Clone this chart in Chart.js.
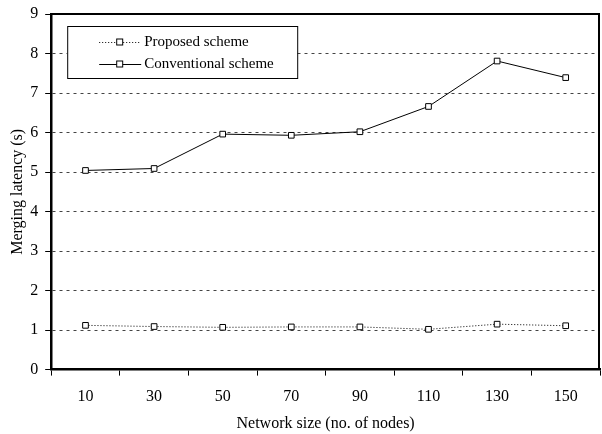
<!DOCTYPE html>
<html>
<head>
<meta charset="utf-8">
<script src="https://cdn.jsdelivr.net/npm/chart.js@4"></script>
<style>
  body { margin: 0; background: #fff; }
  #wrap { width: 602px; height: 434px; overflow: hidden; }
</style>
</head>
<body>
<div id="wrap"><canvas id="latency-chart" width="605" height="434"></canvas></div>
<script>
const networkSizes = ['10', '30', '50', '70', '90', '110', '130', '150'];
const proposedLatency = [1.12, 1.09, 1.07, 1.08, 1.08, 1.02, 1.15, 1.11];
const conventionalLatency = [5.04, 5.09, 5.96, 5.93, 6.02, 6.66, 7.81, 7.39];
const yTicks = [0, 1, 2, 3, 4, 5, 6, 7, 8, 9];

const serif = '"Liberation Serif", "DejaVu Serif", serif';

// frame on the top and right side of the plot
const frame = {
  id: 'frame',
  afterDatasetsDraw(chart) {
    const { ctx, chartArea: a } = chart;
    ctx.save();
    ctx.strokeStyle = '#000';
    ctx.lineWidth = 2;
    ctx.beginPath();
    ctx.moveTo(a.left, a.top);
    ctx.lineTo(a.right - 1, a.top);
    ctx.lineTo(a.right - 1, a.bottom);
    ctx.stroke();
    ctx.restore();
  }
};

// legend box inside the plot, like the original figure
const boxLegend = {
  id: 'boxLegend',
  afterDraw(chart) {
    const { ctx, chartArea: a } = chart;
    const x = a.left + 16, y = a.top + 12, w = 230, h = 52;
    ctx.save();
    ctx.fillStyle = '#fff';
    ctx.fillRect(x, y, w, h);
    ctx.strokeStyle = '#000';
    ctx.lineWidth = 1;
    ctx.strokeRect(x + 0.5, y + 0.5, w, h);
    chart.data.datasets.forEach((ds, i) => {
      const ly = y + 16 + i * 22;
      ctx.strokeStyle = '#000';
      ctx.lineWidth = 1;
      ctx.setLineDash(ds.borderDash || []);
      ctx.beginPath();
      ctx.moveTo(x + 32, ly + 0.5);
      ctx.lineTo(x + 74, ly + 0.5);
      ctx.stroke();
      ctx.setLineDash([]);
      ctx.fillStyle = '#fff';
      ctx.fillRect(x + 49.5, ly - 3, 6, 6);
      ctx.strokeRect(x + 49.5, ly - 3, 6, 6);
      ctx.fillStyle = '#000';
      ctx.font = '15px ' + serif;
      ctx.textBaseline = 'middle';
      ctx.fillText(ds.label, x + 77, ly);
    });
    ctx.restore();
  }
};

new Chart(document.querySelector('#latency-chart').getContext('2d'), {
  type: 'line',
  data: {
    labels: networkSizes,
    datasets: [
      {
        label: 'Proposed scheme',
        data: proposedLatency,
        borderColor: '#000',
        borderWidth: 1,
        borderDash: [1, 2],
        pointStyle: 'rect',
        pointRadius: 4,
        pointBorderWidth: 1,
        pointBackgroundColor: '#fff',
        pointBorderColor: '#000',
        tension: 0
      },
      {
        label: 'Conventional scheme',
        data: conventionalLatency,
        borderColor: '#000',
        borderWidth: 1,
        pointStyle: 'rect',
        pointRadius: 4,
        pointBorderWidth: 1,
        pointBackgroundColor: '#fff',
        pointBorderColor: '#000',
        tension: 0
      }
    ]
  },
  options: {
    responsive: false,
    animation: false,
    layout: { padding: { top: 14, right: 2, left: 8, bottom: 1 } },
    plugins: {
      legend: { display: false },
      tooltip: { enabled: false }
    },
    scales: {
      x: {
        offset: true,
        afterFit: scale => { scale.paddingLeft = 0; scale.paddingRight = 0; },
        grid: {
          offset: true,
          drawOnChartArea: false,
          tickLength: 6,
          tickColor: '#000',
          tickWidth: 1
        },
        border: { color: '#000', width: 2.5 },
        ticks: {
          color: '#000',
          font: { family: serif, size: 16 },
          padding: 12
        },
        title: {
          display: true,
          text: 'Network size (no. of nodes)',
          color: '#000',
          font: { family: serif, size: 16 },
          padding: { top: -5, bottom: 0 }
        }
      },
      y: {
        min: 0,
        max: 9,
        afterBuildTicks: scale => {
          scale.ticks = yTicks.map(v => ({ value: v }));
        },
        afterFit: scale => { scale.paddingTop = 0; scale.paddingBottom = 0; },
        grid: {
          color: ctx => (ctx.tick && ctx.tick.value > 0 && ctx.tick.value < 9) ? '#444' : 'rgba(0,0,0,0)',
          lineWidth: 1,
          tickLength: 6,
          tickColor: '#000',
          tickWidth: 1
        },
        border: { color: '#000', width: 2.5, dash: [3, 4] },
        ticks: {
          color: '#000',
          font: { family: serif, size: 16 },
          padding: 7
        },
        title: {
          display: true,
          text: 'Merging latency (s)',
          color: '#000',
          font: { family: serif, size: 16 },
          padding: { top: 0, bottom: -4 }
        }
      }
    }
  },
  plugins: [frame, boxLegend]
});
</script>
</body>
</html>
